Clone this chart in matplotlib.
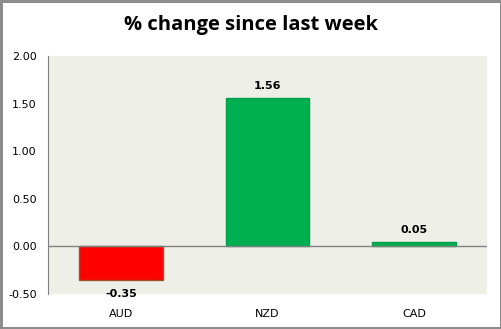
import matplotlib.pyplot as plt

# Weekly % change by currency
currencies = ['AUD', 'NZD', 'CAD']
changes = [-0.35, 1.56, 0.05]
bar_colors = ['#FF0000', '#00B050', '#00B050']
edge_colors = ['#A0522D', '#00A048', '#00A048']
y_ticks = [-0.50, 0.00, 0.50, 1.00, 1.50, 2.00]

fig = plt.figure(figsize=(5.02, 3.29), dpi=100)
fig.patch.set_facecolor('white')
fig.patch.set_edgecolor('#8C8C8C')
fig.patch.set_linewidth(2.5)

ax = fig.add_axes([48 / 502, 1 - 294 / 329, (487 - 48) / 502, (294 - 56) / 329])
ax.set_facecolor('#EEF0E8')

x = range(len(currencies))
ax.bar(x, changes, width=0.57, color=bar_colors, edgecolor=edge_colors,
       linewidth=1, zorder=3)

ax.set_xlim(-0.5, len(currencies) - 0.5)
ax.set_ylim(-0.5, 2.0)
ax.set_yticks(y_ticks)
ax.set_yticklabels([f'{v:.2f}' for v in y_ticks], fontsize=8, family='DejaVu Sans')
ax.set_xticks(list(x))
ax.set_xticklabels(currencies, fontsize=8, family='DejaVu Sans')
ax.tick_params(axis='y', length=0, pad=8)
ax.tick_params(axis='x', length=0, pad=11)

for side in ['top', 'right', 'bottom']:
    ax.spines[side].set_visible(False)
ax.spines['left'].set_color('#808080')
ax.axhline(0, color='#808080', linewidth=1, zorder=4)

# value labels above/below each bar
for i, v in enumerate(changes):
    if v >= 0:
        ax.annotate(f'{v:.2f}', (i, v), xytext=(0, 5), textcoords='offset points',
                    ha='center', va='bottom', fontsize=8, fontweight='bold',
                    family='DejaVu Sans')
    else:
        ax.annotate(f'{v:.2f}', (i, v), xytext=(0, -7), textcoords='offset points',
                    ha='center', va='top', fontsize=8, fontweight='bold',
                    family='DejaVu Sans')

fig.text(0.5, 1 - 25 / 329, '% change since last week', ha='center', va='center',
         fontsize=14.5, fontweight='bold', family='Open Sans')

fig.savefig('out.png', dpi=100)
